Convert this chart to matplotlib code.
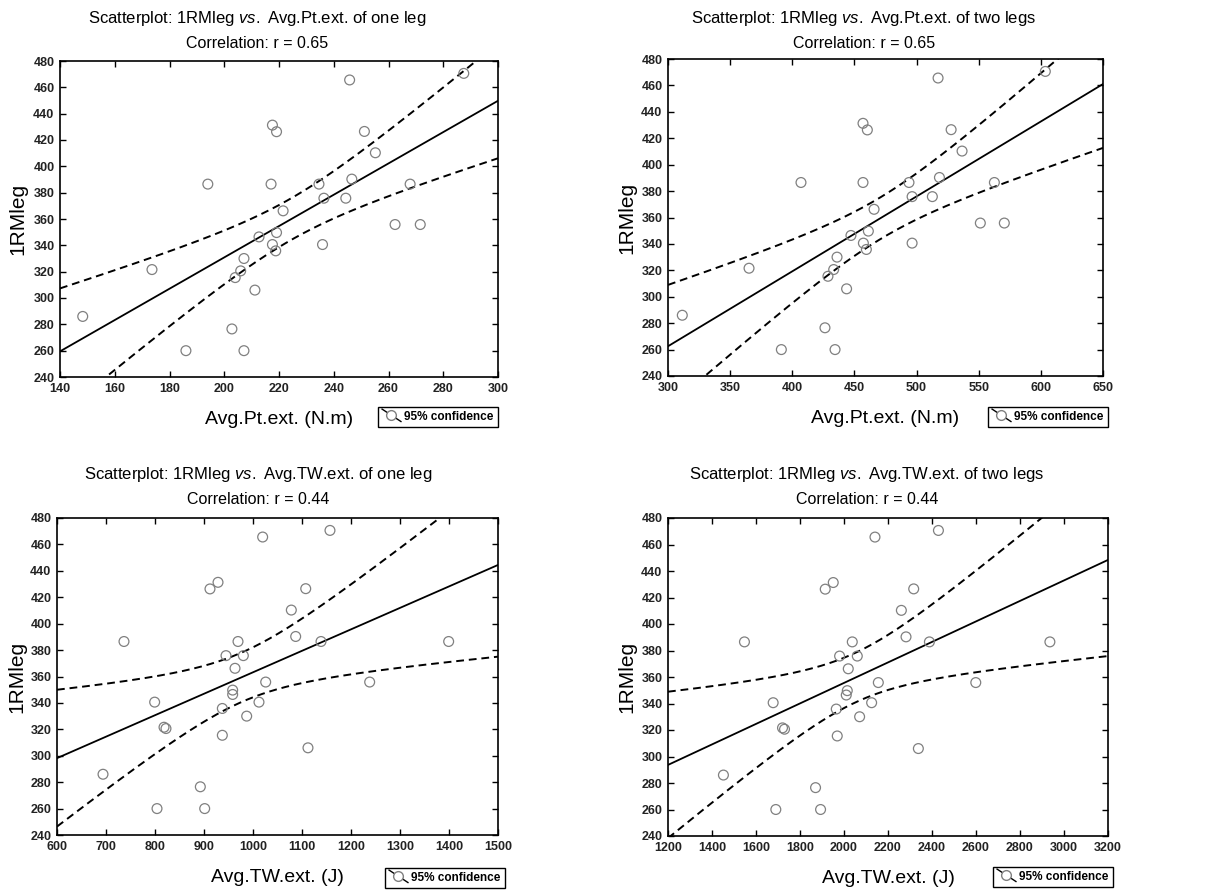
import numpy as np
import matplotlib
matplotlib.use('Agg')
import matplotlib.pyplot as plt
from matplotlib import font_manager
from matplotlib.lines import Line2D
from matplotlib.legend_handler import HandlerBase

# 1RM leg press (same subjects in every panel)
rm_leg = [286, 321.6, 386.5, 260, 276.5, 260, 315.5, 320.6, 330, 306,
          346.4, 386.5, 431.3, 426.3, 340.6, 335.8, 349.7, 366.2, 386.5, 375.8,
          340.6, 375.8, 465.6, 390.3, 426.5, 410.3, 355.8, 355.8, 386.5, 470.6]
pt_one = [148.3, 173.6, 194.0, 186.0, 202.8, 207.2, 204.0, 206.0, 207.2, 211.2,
          212.7, 217.1, 217.6, 219.1, 217.6, 218.8, 219.1, 221.5, 234.6, 236.4,
          235.9, 244.4, 245.8, 246.6, 251.2, 255.2, 262.4, 271.6, 267.9, 287.5]
pt_two = [311.5, 365.2, 407.0, 391.2, 426.3, 434.4, 428.7, 433.3, 436.0, 443.7,
          447.2, 456.9, 456.9, 460.4, 457.2, 459.6, 461.2, 465.8, 493.9, 496.4,
          496.4, 512.7, 517.3, 518.4, 527.8, 536.6, 551.3, 570.6, 562.6, 603.6]
tw_one = [693.9, 818.4, 736.7, 804.1, 892.5, 901.4, 937.4, 822.4, 987.1, 1112.2,
          958.5, 969.4, 928.6, 912.2, 799.3, 937.4, 958.5, 963.3, 1138.8, 944.9,
          1012.2, 980.3, 1019.7, 1087.1, 1107.6, 1078.2, 1025.9, 1238.1, 1399.3, 1157.1]
tw_two = [1451.9, 1720.5, 1547.5, 1690.1, 1870.7, 1893.5, 1969.3, 1729.6, 2071, 2338,
          2010.3, 2037.6, 1951.1, 1914.7, 1678, 1964.8, 2014.9, 2019.4, 2388.2, 1980,
          2125.6, 2060.4, 2140.8, 2281.9, 2316.8, 2260.7, 2156, 2599, 2935.9, 2429.2]

titles = ['Avg.Pt.ext. of one leg', 'Avg.Pt.ext. of two legs',
          'Avg.TW.ext. of one leg', 'Avg.TW.ext. of two legs']
r_labels = ['Correlation: r = 0.65', 'Correlation: r = 0.65',
            'Correlation: r = 0.44', 'Correlation: r = 0.44']
x_labels = ['Avg.Pt.ext. (N.m)', 'Avg.Pt.ext. (N.m)', 'Avg.TW.ext. (J)', 'Avg.TW.ext. (J)']
x_ticks = [np.arange(140, 301, 20), np.arange(300, 651, 50),
           np.arange(600, 1501, 100), np.arange(1200, 3201, 200)]
y_ticks = np.arange(240, 481, 20)

names = {f.name for f in font_manager.fontManager.ttflist}
fam = 'Liberation Sans Narrow' if 'Liberation Sans Narrow' in names else 'Liberation Sans'
plt.rcParams['font.family'] = [fam, 'DejaVu Sans']
plt.rcParams['mathtext.fontset'] = 'custom'
plt.rcParams['mathtext.it'] = fam + ':italic'
plt.rcParams['mathtext.rm'] = fam


class DiagHandler(HandlerBase):
    # legend key: diagonal line through an open circle
    def create_artists(self, legend, orig_handle, xdescent, ydescent,
                       width, height, fontsize, trans):
        x0, x1 = -xdescent, width - xdescent
        y0, y1 = height - ydescent + 2, -ydescent - 1
        line = Line2D([x0, x1], [y0, y1], color='k', lw=1, transform=trans)
        dot = Line2D([x0 + 0.45 * (x1 - x0)], [y0 + 0.45 * (y1 - y0)], marker='o',
                     mfc='white', mec='#808080', ms=7, transform=trans)
        return [line, dot]


W, H = 1207, 893
fig = plt.figure(figsize=(W / 100, H / 100), dpi=100)

# pixel boxes: left, top, right, bottom ; title center x ; title y ; ylabel x ; legend right, top
boxes = [(60, 61, 498, 377, 257, 19, 18, 498, 407),
         (668, 59, 1103, 376, 864, 19, 627, 1108, 407),
         (57, 518, 498, 835, 258, 475, 17, 505, 868),
         (668, 518, 1108, 836, 867, 475, 627, 1113, 867)]
xdata = [pt_one, pt_two, tw_one, tw_two]

for i in range(4):
    l, t, r, b, tcx, ty, ylx, lgr, lgt = boxes[i]
    ax = fig.add_axes([l / W, 1 - b / H, (r - l) / W, (b - t) / H])
    x = np.array(xdata[i], dtype=float)
    y = np.array(rm_leg, dtype=float)
    xlim = (x_ticks[i][0], x_ticks[i][-1])

    ax.scatter(x, y, s=50, facecolors='none', edgecolors='#808080', linewidths=0.9, zorder=3)

    slope, icpt = np.polyfit(x, y, 1)
    n = len(x)
    res = y - (icpt + slope * x)
    s = np.sqrt(np.sum(res ** 2) / (n - 2))
    sxx = np.sum((x - x.mean()) ** 2)
    xs = np.linspace(xlim[0], xlim[1], 300)
    fit = icpt + slope * xs
    half = 2.048 * s * np.sqrt(1 / n + (xs - x.mean()) ** 2 / sxx)
    ax.plot(xs, fit, color='k', lw=1.3)
    ax.plot(xs, fit + half, color='k', lw=1.4, ls=(0, (4, 2.5)))
    ax.plot(xs, fit - half, color='k', lw=1.4, ls=(0, (4, 2.5)))

    ax.set_xlim(xlim)
    ax.set_ylim(240, 480)
    ax.set_xticks(x_ticks[i])
    ax.set_yticks(y_ticks)
    ax.tick_params(direction='in', top=True, right=True, length=4, width=1, pad=4,
                   labelsize=9)
    for lab in ax.get_xticklabels() + ax.get_yticklabels():
        lab.set_fontweight('bold')
        lab.set_color('#222222')
    for sp in ax.spines.values():
        sp.set_linewidth(1.2)

    ax.set_xlabel(x_labels[i], fontsize=14, labelpad=12)
    fig.text(ylx / W, 1 - (t + b) / 2 / H, '1RMleg', fontsize=15, rotation=90,
             ha='center', va='center')
    fig.text(tcx / W, 1 - ty / H, 'Scatterplot: 1RMleg $\\mathit{vs.}$ ' + titles[i],
             fontsize=12, ha='center', va='center')
    fig.text(tcx / W, 1 - (ty + 24) / H, r_labels[i], fontsize=11.5,
             ha='center', va='center')

    leg = ax.legend([object()], ['95% confidence'], handler_map={object: DiagHandler()},
                    loc='upper right',
                    bbox_to_anchor=(lgr / W, 1 - lgt / H), bbox_transform=fig.transFigure,
                    fancybox=False, edgecolor='k', framealpha=1, borderaxespad=0,
                    handlelength=1.6, handletextpad=0.3, borderpad=0.35,
                    prop={'size': 8.5, 'weight': 'bold'})
    leg.get_frame().set_linewidth(1.0)

fig.savefig('out.png', dpi=100)
